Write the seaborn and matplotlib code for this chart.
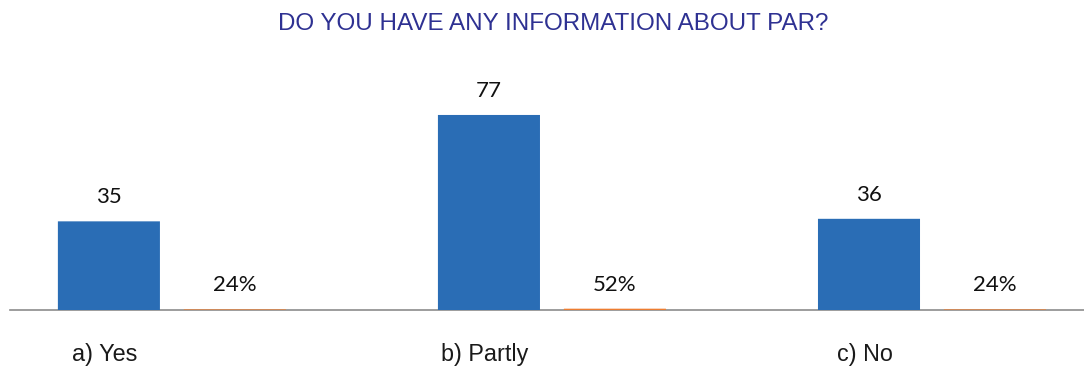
import matplotlib
matplotlib.use("Agg")
import matplotlib.pyplot as plt
import seaborn as sns
import pandas as pd

categories = ["a) Yes", "b) Partly", "c) No"]
counts = [35, 77, 36]
shares = [0.24, 0.52, 0.24]
share_labels = ["24%", "52%", "24%"]
title = "DO YOU HAVE ANY INFORMATION ABOUT PAR?"

blue = "#2A6DB5"
orange = "#ED7D31"

df = pd.DataFrame({
    "category": categories * 2,
    "series": ["count"] * 3 + ["share"] * 3,
    "value": counts + shares,
})

sns.set_theme(style="white")
plt.rcParams["font.family"] = ["Liberation Sans", "DejaVu Sans"]

fig = plt.figure(figsize=(10.84, 3.66), dpi=100)
ax = fig.add_axes([10 / 1084, 56 / 366, 1074 / 1084, 250 / 366])

W = 0.663
sns.barplot(data=df, x="category", y="value", hue="series",
            palette=[blue, orange], width=W, gap=0.19, dodge=True,
            legend=False, ax=ax, saturation=1)

ax.set_xlim(-0.426, 2.4)
ax.set_ylim(0, 98.7)

for c in ax.containers:
    for p in c.patches:
        p.set_edgecolor("none")
        p.set_zorder(3)
        p.set_snap(False)

label_font = ["Lato", "DejaVu Sans"]
count_bars, share_bars = ax.containers[0], ax.containers[1]
for p, v in zip(count_bars.patches, counts):
    ax.annotate(str(v), (p.get_x() + p.get_width() / 2, p.get_height()),
                xytext=(0, 13), textcoords="offset points", ha="center",
                va="baseline", fontsize=16, family=label_font,
                color="#111111")
for p, s in zip(share_bars.patches, share_labels):
    ax.annotate(s, (p.get_x() + p.get_width() / 2, p.get_height()),
                xytext=(0, 13), textcoords="offset points", ha="center",
                va="baseline", fontsize=16, family=label_font,
                color="#111111")

ax.set_xticks([i - W / 4 - 0.01 for i in range(len(categories))])
ax.set_xticklabels(categories, fontsize=16.8)
ax.tick_params(axis="x", length=0, pad=24, colors="#1a1a1a")
ax.set_yticks([])
ax.set_xlabel("")
ax.set_ylabel("")
for side in ["left", "right", "top"]:
    ax.spines[side].set_visible(False)
ax.spines["bottom"].set_color("#8C8C8C")
ax.spines["bottom"].set_linewidth(1.2)

fig.text(553 / 1084, 1 - 23.5 / 366, title, ha="center", va="center",
         fontsize=17.4, color="#2E3192")

fig.savefig("out.png", dpi=100, facecolor="white")
